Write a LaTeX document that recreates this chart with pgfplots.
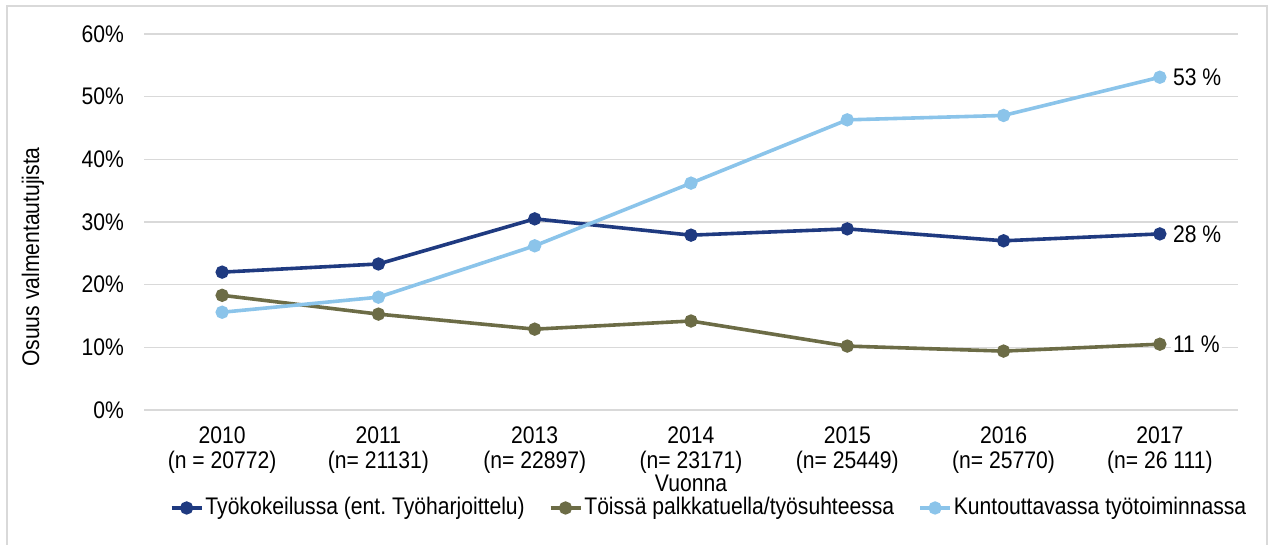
\documentclass[border=0pt]{standalone}
\usepackage{pgfplots}
\pgfplotsset{compat=1.18}
\usepackage{fontspec}
\setmainfont{Liberation Sans}[FakeStretch=0.88]
\definecolor{cDark}{HTML}{1F3A80}
\definecolor{cOlive}{HTML}{6C6C46}
\definecolor{cLight}{HTML}{8BC4EA}
\definecolor{cGrid}{HTML}{D9D9D9}
\begin{document}
\frenchspacing
\fontsize{24}{25}\selectfont
\begin{tikzpicture}[x=1pt,y=1pt]
\useasboundingbox (0,0) rectangle (1271,545);
\draw[cGrid, line width=1.2pt] (7,-5) -- (7,539) -- (1267,539) -- (1267,-5);
\begin{axis}[
 at={(144pt,135pt)}, anchor=south west, scale only axis, width=1094pt, height=376pt,
 xmin=-0.5, xmax=6.5, ymin=0, ymax=60,
 xtick={0,...,6},
 xticklabels={{2010\\(n = 20772)},{2011\\(n= 21131)},{2013\\(n= 22897)},{2014\\(n= 23171)},{2015\\(n= 25449)},{2016\\(n= 25770)},{2017\\(n= 26 111)}},
 ytick={0,10,...,60},
 yticklabel={\pgfmathprintnumber{\tick}\%},
 /pgf/number format/assume math mode=true,
 axis line style={draw=none}, major tick style={draw=none},
 ymajorgrids, grid style={cGrid, line width=1.3pt},
 tick label style={font=\fontsize{24}{25}\selectfont},
 yticklabel style={anchor=east, inner sep=0pt, xshift=-20pt},
 xticklabel style={anchor=north, align=center, inner sep=0pt, yshift=-17pt},
 clip=false,
 legend columns=3, legend cell align=left,
 legend style={at={(0.5165,-0.2606)}, anchor=center, draw=none, fill=none, inner sep=0pt,
   font=\fontsize{24}{25}\selectfont,
   /tikz/every even column/.append style={column sep=22pt}},
 legend image code/.code={\draw[mark repeat=2,mark phase=2,#1] plot coordinates {(0pt,0pt)(15pt,0pt)(30pt,0pt)};},
]
\addplot[cDark, line width=3.6pt, mark=*, mark size=4.8pt, mark options={solid}]
 coordinates {(0,22.0)(1,23.3)(2,30.5)(3,27.9)(4,28.9)(5,27.0)(6,28.1)};
\addlegendentry{Työkokeilussa (ent.\ Työharjoittelu)}
\addplot[cOlive, line width=3.6pt, mark=*, mark size=4.8pt, mark options={solid}]
 coordinates {(0,18.3)(1,15.3)(2,12.9)(3,14.2)(4,10.2)(5,9.4)(6,10.5)};
\addlegendentry{Töissä palkkatuella/työsuhteessa}
\addplot[cLight, line width=3.6pt, mark=*, mark size=4.8pt, mark options={solid}]
 coordinates {(0,15.6)(1,18.0)(2,26.2)(3,36.2)(4,46.3)(5,47.0)(6,53.1)};
\addlegendentry{Kuntouttavassa työtoiminnassa}
\addplot[forget plot, draw=none, mark=none, nodes near coords, point meta=explicit symbolic,
  nodes near coords style={anchor=west, fill=white, inner sep=2pt, xshift=11pt, text=black, font=\fontsize{24}{25}\selectfont}]
 coordinates {(6,53.1)[53 \%] (6,28.1)[28 \%] (6,10.5)[11 \%]};
\end{axis}
\node[rotate=90] at (33,288) {Osuus valmentautujista};
\node[anchor=base] at (691,53) {Vuonna};
\end{tikzpicture}
\end{document}
